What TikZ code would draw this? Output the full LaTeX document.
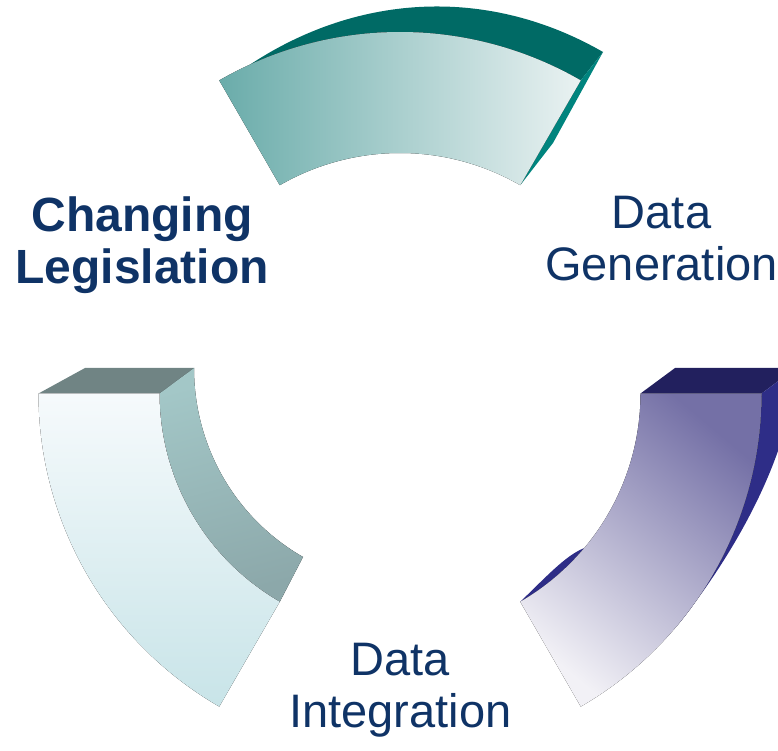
\documentclass[tikz,border=0pt]{standalone}
\usepackage{fontspec}
\setmainfont{Liberation Sans}
\usepackage{tikz}
\definecolor{tealdeep}{RGB}{0, 106, 101}
\definecolor{tealedge}{RGB}{0, 132, 126}
\definecolor{tealleft}{RGB}{106, 172, 170}
\definecolor{tealright}{RGB}{234, 242, 242}
\definecolor{navytop}{RGB}{34, 32, 94}
\definecolor{navyside}{RGB}{46, 45, 135}
\definecolor{lavdark}{RGB}{116, 112, 166}
\definecolor{lavlight}{RGB}{242, 241, 246}
\definecolor{slatetop}{RGB}{112, 132, 132}
\definecolor{slatelight}{RGB}{163, 199, 199}
\definecolor{slatedark}{RGB}{140, 168, 170}
\definecolor{icewhite}{RGB}{246, 250, 252}
\definecolor{icecyan}{RGB}{200, 228, 232}
\definecolor{labelnavy}{RGB}{15, 51, 102}

\begin{document}
\begin{tikzpicture}[x=1pt, y=1pt,
    stagelabel/.style={text=labelnavy, align=center, inner sep=0pt, font=\fontsize{47}{52}\selectfont}]
        \useasboundingbox (0,0) rectangle (778,750);
            \fill[tealdeep]   (580.75,669.57) arc[start angle=60, end angle=114.5, radius=361.5]
                 .. controls (360,758) and (490,763) .. (603,698) -- cycle;
            \fill[tealedge]   (580.75,669.57) -- (603,698) -- (553,607) -- (520.25,564.78) -- cycle;
            \fill[left color=tealleft, right color=tealright]
                 (580.75,669.57) arc[start angle=60, end angle=120, radius=361.5]
                 -- (279.75,564.78) arc[start angle=120, end angle=60, radius=240.5] -- cycle;
            \fill[navytop]    (640.50,356.50) -- (761.5,356.5) -- (796,382) -- (675,382) -- cycle;
            \fill[navyside]   (761.50,356.50) arc[start angle=0, end angle=-40, radius=361.5]
                 .. controls (730,190) and (790,290) .. (796,382) -- cycle;
            \fill[navyside]   (520.25,148.22) arc[start angle=-60, end angle=-40, radius=240.5]
                 .. controls (566,195) and (546,173) .. (520.25,148.22) -- cycle;
            \fill[top color=lavdark, bottom color=lavlight, shading angle=-40]
                 (761.50,356.50) arc[start angle=0, end angle=-60, radius=361.5]
                 -- (520.25,148.22) arc[start angle=-60, end angle=0, radius=240.5] -- cycle;
            \fill[slatetop]   (38.50,356.50) -- (159.5,356.5) -- (194,382) -- (85,382) -- cycle;
            \fill[top color=slatelight, bottom color=slatedark, shading angle=15]
                 (159.50,356.50) arc[start angle=180, end angle=240, radius=240.5]
                 -- (303,193) .. controls (235,232) and (194,304) .. (194,382) -- cycle;
            \fill[top color=icewhite, bottom color=icecyan]
                 (38.50,356.50) arc[start angle=180, end angle=240, radius=361.5]
                 -- (279.75,148.22) arc[start angle=240, end angle=180, radius=240.5] -- cycle;
        \node[stagelabel, font=\fontsize{48}{52}\selectfont\bfseries] (legislation) at (142,504.5) {Changing\\Legislation};
        \node[stagelabel] (generation)  at (661.5,511) {Data\\Generation};
        \node[stagelabel] (integration) at (400.5,59.5) {Data\\Integration};
        \end{tikzpicture}
\end{document}
